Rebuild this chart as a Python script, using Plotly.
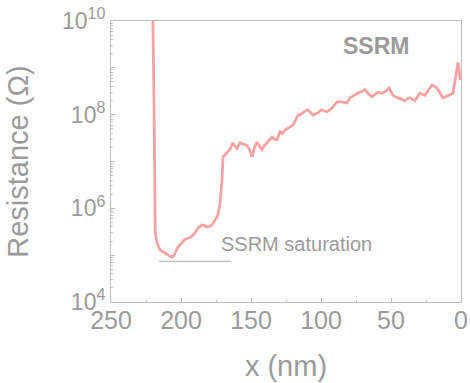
import plotly.graph_objects as go

# ---- data ----
x_nm = [220.2, 219.8, 219.3, 218.9, 218.6, 218.4, 217.6, 217.1, 216.0, 215.0, 213.2, 211.4, 209.0,
        206.4, 205.0, 204.3, 202.1, 200.4, 198.6, 197.0, 195.0, 193.2, 191.4, 189.6, 187.9, 185.0,
        183.2, 181.4, 179.6, 177.9, 175.7, 173.6, 172.1, 170.7, 170.0, 168.6, 167.1, 165.0, 163.9,
        162.9, 161.4, 160.0, 157.9, 155.4, 152.9, 151.0, 149.3, 147.5, 145.7, 143.9, 142.1, 140.4,
        138.6, 136.8, 135.0, 133.2, 131.4, 129.3, 127.5, 125.7, 123.9, 122.1, 120.0, 118.2, 116.4,
        114.6, 112.9, 111.1, 109.3, 107.5, 105.7, 103.9, 102.1, 100.7, 99.3, 97.5, 95.7, 93.9, 92.1,
        90.4, 88.6, 86.4, 84.3, 82.9, 81.4, 79.3, 76.4, 73.6, 71.1, 68.6, 66.1, 63.6, 61.4, 59.3,
        57.5, 55.7, 53.6, 51.4, 50.0, 48.6, 46.8, 45.0, 42.5, 40.0, 38.2, 36.4, 34.6, 32.9, 31.1,
        29.3, 27.5, 25.7, 23.2, 20.7, 18.9, 17.1, 15.0, 12.9, 11.1, 9.3, 7.5, 5.7, 4.3, 3.2, 2.1,
        1.4, 0.7]
resistance = [2.0e10, 5.0e9, 2.0e8, 1.0e7, 1.5e6, 3.0e5, 2.2e5, 1.8e5, 1.5e5, 1.3e5, 1.2e5, 1.1e5, 1.0e5,
              9.1e4, 9.8e4, 1.1e5, 1.5e5, 1.7e5, 2.0e5, 2.2e5, 2.3e5, 2.4e5, 2.7e5, 3.1e5, 3.8e5, 4.4e5,
              4.3e5, 4.0e5, 4.1e5, 4.4e5, 5.6e5, 7.2e5, 1.3e6, 4.0e6, 1.26e7, 1.4e7, 1.5e7, 1.8e7, 2.2e7,
              2.5e7, 2.1e7, 1.9e7, 2.5e7, 2.3e7, 2.2e7, 1.8e7, 1.26e7, 2.0e7, 2.6e7, 2.1e7, 1.8e7, 2.2e7,
              2.5e7, 2.8e7, 3.3e7, 3.0e7, 2.9e7, 4.3e7, 4.0e7, 4.7e7, 5.0e7, 5.5e7, 6.0e7, 7.5e7, 9.8e7,
              1.0e8, 1.1e8, 1.2e8, 1.26e8, 1.1e8, 9.8e7, 1.05e8, 1.1e8, 1.2e8, 1.26e8, 1.2e8, 1.15e8, 1.25e8,
              1.38e8, 1.6e8, 1.86e8, 1.9e8, 1.86e8, 1.8e8, 1.78e8, 2.3e8, 2.6e8, 2.9e8, 3.1e8, 3.4e8, 2.8e8,
              2.4e8, 2.7e8, 3.0e8, 2.9e8, 2.9e8, 3.2e8, 3.7e8, 3.1e8, 2.6e8, 2.4e8, 2.3e8, 2.1e8, 2.0e8,
              2.2e8, 2.3e8, 2.1e8, 2.0e8, 2.4e8, 2.9e8, 2.7e8, 2.6e8, 3.4e8, 4.3e8, 4.0e8, 3.7e8, 2.9e8,
              2.3e8, 2.4e8, 2.6e8, 2.7e8, 2.9e8, 5.5e8, 1.0e9, 1.3e9, 9.0e8, 5.5e8]

sat_x = [215.7, 164.3]
sat_level = 7.4e4

y_major = [1e4, 1e5, 1e6, 1e7, 1e8, 1e9, 1e10]
y_major_text = ["10<sup>4</sup>", "", "10<sup>6</sup>", "", "10<sup>8</sup>", "", "10<sup>10</sup>"]
y_minor = [m * 10 ** k for k in range(4, 10) for m in range(2, 10)]

x_major = [250, 200, 150, 100, 50, 0]
x_minor = [225, 175, 125, 75, 25]

GREY = "#9B9B9B"
LINE = "#BDBDBD"
FONT = "Liberation Sans, Arial, sans-serif"

fig = go.Figure()
fig.add_trace(go.Scatter(x=x_nm, y=resistance, mode="lines",
                         line=dict(color="#F6A3A3", width=2.8), showlegend=False))
fig.add_trace(go.Scatter(x=sat_x, y=[sat_level, sat_level], mode="lines",
                         line=dict(color="#A8A8A8", width=1), showlegend=False))

fig.update_layout(
    template="none",
    width=470, height=383,
    margin=dict(l=111, r=9, t=21, b=81),
    paper_bgcolor="white", plot_bgcolor="white",
    font=dict(family=FONT, color=GREY),
    xaxis=dict(
        range=[250, 0], showgrid=False, zeroline=False, automargin=False,
        showline=True, linecolor=LINE, linewidth=1, mirror=True,
        ticks="inside", ticklen=4, tickcolor=LINE,
        tickvals=x_major, ticktext=[str(v) for v in x_major],
        tickfont=dict(size=25, color=GREY), ticklabelstandoff=-4,
        ticklabeloverflow="allow",
        minor=dict(tickvals=x_minor, ticks="inside", ticklen=2, tickcolor=LINE),
        title=dict(text="x (nm)", font=dict(size=29, color=GREY), standoff=22),
    ),
    yaxis=dict(
        type="log", range=[4, 10], showgrid=False, zeroline=False, automargin=False,
        showline=True, linecolor=LINE, linewidth=1, mirror=True,
        ticks="inside", ticklen=4, tickcolor=LINE,
        tickvals=y_major, ticktext=y_major_text,
        tickfont=dict(size=23, color=GREY),
        ticklabeloverflow="allow",
        minor=dict(tickvals=y_minor, ticks="inside", ticklen=2, tickcolor=LINE),
        title=dict(text="Resistance (Ω)", font=dict(size=29, color=GREY), standoff=24),
    ),
    annotations=[
        dict(text="<b>SSRM</b>", xref="paper", yref="paper", x=0.757, y=0.911,
             showarrow=False, font=dict(size=23, color=GREY), xanchor="center", yanchor="middle"),
        dict(text="SSRM saturation", xref="paper", yref="paper", x=0.309, y=0.208,
             showarrow=False, font=dict(size=20, color=GREY), xanchor="left", yanchor="middle"),
    ],
)

# remove the browser's default 8px body margin so the figure fills the window
fig.write_html("out.html", config={"displayModeBar": False},
               post_script="document.body.style.margin='0';")
